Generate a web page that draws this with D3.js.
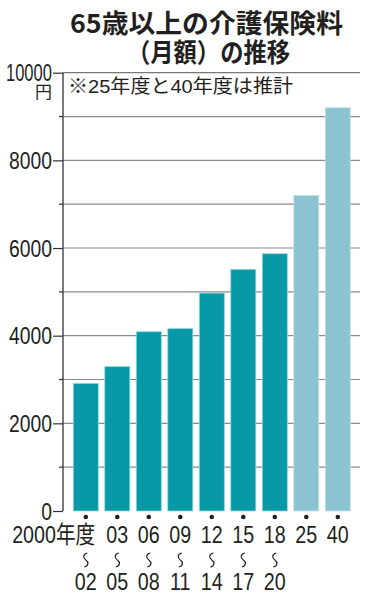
<!DOCTYPE html>
<html><head><meta charset="utf-8">
<script src="https://cdn.jsdelivr.net/npm/d3@7"></script>
<style>
html,body{margin:0;padding:0;background:#fff;}
svg{display:block;}
text{font-family:"Liberation Sans","Noto Sans CJK JP",sans-serif;fill:#231f20;}
</style></head><body>
<svg id="c" width="366" height="600"></svg>
<script>
const categories = ["2000-02","03-05","06-08","09-11","12-14","15-17","18-20","25","40"];
const labelTop = ["2000年度","03","06","09","12","15","18","25","40"];
const labelBottom = ["02","05","08","11","14","17","20","",""];
const values = [2911,3293,4090,4160,4972,5514,5869,7200,9200];
const estimated = [false,false,false,false,false,false,false,true,true];
const yTicks = [0,2000,4000,6000,8000,10000];
const gridValues = [1000,2000,3000,4000,5000,6000,7000,8000,9000,10000];
const titleLines = ["65歳以上の介護保険料","（月額）の推移"];
const note = "※25年度と40年度は推計";
const unit = "円";

const svg = d3.select("#c");
const x = d3.scaleBand().domain(categories).range([70.05,353.55]).paddingInner(0.206).paddingOuter(0.103);
const y = d3.scaleLinear().domain([0,10000]).range([511,72.7]);
const axisX = 63;
const cx = c => x(c)+x.bandwidth()/2;

function condense(sel, f){
  sel.each(function(d){
    const w = this.getComputedTextLength();
    const k = (typeof f === "function") ? f(d) : f;
    d3.select(this).attr("textLength", w*k).attr("lengthAdjust","spacingAndGlyphs");
  });
}

// title
svg.selectAll("text.title").data(titleLines).join("text")
  .attr("class","title")
  .attr("x",(d,i)=> i===0?206.5:208.5)
  .attr("y",(d,i)=>33+i*28.5)
  .attr("text-anchor","middle")
  .style("font-family","'Noto Sans CJK JP',sans-serif")
  .style("font-weight","700")
  .style("font-size","26px")
  .attr("textLength",(d,i)=> i===0?273:163)
  .attr("lengthAdjust","spacingAndGlyphs")
  .text(d=>d);

// gridlines
svg.append("g").selectAll("line").data(gridValues).join("line")
  .attr("x1",axisX).attr("x2",360)
  .attr("y1",d=>y(d)).attr("y2",d=>y(d))
  .attr("stroke",d=>d===10000?"#777":"#8a8a8a").attr("stroke-width",1.2);

// y axis
const yAxis = d3.axisLeft(y).tickValues(yTicks).tickSize(10).tickPadding(1).tickFormat(d3.format("d"));
const ga = svg.append("g").attr("transform",`translate(${axisX},0)`).call(yAxis);
ga.select(".domain").remove();
ga.selectAll(".tick line").attr("stroke","#333").attr("stroke-width",1.2);
ga.selectAll(".tick text").style("font-size","23px").style("fill","#231f20").attr("dy","0.36em")
  .call(condense, d => d===10000 ? 0.72 : 0.84);
// minor ticks
svg.append("g").selectAll("line").data(gridValues.filter(v=>v%2000!==0)).join("line")
  .attr("x1",axisX-4).attr("x2",axisX).attr("y1",d=>y(d)).attr("y2",d=>y(d))
  .attr("stroke","#333").attr("stroke-width",1.2);
svg.append("line").attr("x1",axisX).attr("x2",axisX).attr("y1",y(10000)).attr("y2",y(0))
  .attr("stroke","#333").attr("stroke-width",1.3);

svg.append("text").attr("x",52).attr("y",98).attr("text-anchor","end")
  .style("font-family","'Noto Sans CJK JP',sans-serif").style("font-size","17px").text(unit);

svg.append("text").attr("x",68).attr("y",93)
  .style("font-size","19px").attr("textLength",225).attr("lengthAdjust","spacingAndGlyphs").text(note);

// bars
svg.append("g").selectAll("rect").data(values).join("rect")
  .attr("x",(d,i)=>x(categories[i]))
  .attr("width",x.bandwidth())
  .attr("y",d=>y(d))
  .attr("height",d=>y(0)-y(d))
  .attr("fill",(d,i)=>estimated[i]?"#8cc3d1":"#0899a7")
  .attr("stroke",(d,i)=>estimated[i]?"#c4e2ea":"#8fd6dc").attr("stroke-width",0.8);

// dots
svg.append("g").selectAll("circle").data(categories).join("circle")
  .attr("cx",d=>cx(d)).attr("cy",517).attr("r",2.3).attr("fill","#231f20");

// x labels
svg.append("g").selectAll("text").data(labelTop).join("text")
  .attr("x",(d,i)=> i===0 ? cx(categories[i])+9.5 : cx(categories[i]))
  .attr("y",543)
  .attr("text-anchor",(d,i)=>i===0?"end":"middle")
  .style("font-size","24px").text(d=>d)
  .call(condense,0.82);
svg.append("g").selectAll("text").data(labelBottom).join("text")
  .attr("x",(d,i)=>cx(categories[i]))
  .attr("y",590).attr("text-anchor","middle")
  .style("font-size","24px").text(d=>d)
  .call(condense,0.82);
// range wave marks
svg.append("g").selectAll("path").data(categories.filter((d,i)=>labelBottom[i]!=="")).join("path")
  .attr("d",d=>{
    const p=d3.path(), c=cx(d), t=553, b=567;
    p.moveTo(c+1.5,t);
    p.bezierCurveTo(c-3,t+1,c-3,t+5,c,t+7);
    p.bezierCurveTo(c+3,t+9,c+3,b-1,c-1.5,b);
    return p.toString();
  })
  .attr("fill","none").attr("stroke","#231f20").attr("stroke-width",1.2);
</script>
</body></html>
